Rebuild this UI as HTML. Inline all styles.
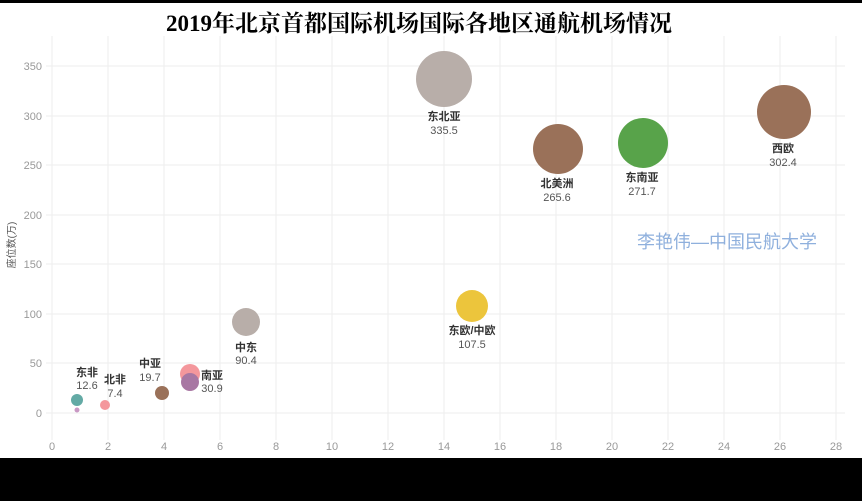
<!DOCTYPE html>
<html><head><meta charset="utf-8"><style>
html,body{margin:0;padding:0;background:#fff;}
body{width:862px;height:501px;overflow:hidden;position:relative;}
</style></head><body>
<svg width="862" height="501" xmlns="http://www.w3.org/2000/svg" style="position:absolute;left:0;top:0">
<rect x="0" y="0" width="862" height="501" fill="#fff"/>
<rect x="0" y="0" width="862" height="3" fill="#000"/>
<rect x="0" y="458" width="862" height="43" fill="#000"/>
<text x="419" y="31" text-anchor="middle" font-family="Liberation Serif, Noto Serif CJK SC, serif" font-weight="bold" font-size="23" fill="#000">2019年北京首都国际机场国际各地区通航机场情况</text>
<g stroke="#eeeeee" stroke-width="1">
<line x1="52" y1="36" x2="52" y2="440"/><line x1="108" y1="36" x2="108" y2="440"/><line x1="164" y1="36" x2="164" y2="440"/><line x1="220" y1="36" x2="220" y2="440"/><line x1="276" y1="36" x2="276" y2="440"/><line x1="332" y1="36" x2="332" y2="440"/><line x1="388" y1="36" x2="388" y2="440"/><line x1="444" y1="36" x2="444" y2="440"/><line x1="500" y1="36" x2="500" y2="440"/><line x1="556" y1="36" x2="556" y2="440"/><line x1="612" y1="36" x2="612" y2="440"/><line x1="668" y1="36" x2="668" y2="440"/><line x1="724" y1="36" x2="724" y2="440"/><line x1="780" y1="36" x2="780" y2="440"/><line x1="836" y1="36" x2="836" y2="440"/>
<line x1="46" y1="413" x2="845" y2="413"/><line x1="46" y1="363" x2="845" y2="363"/><line x1="46" y1="314" x2="845" y2="314"/><line x1="46" y1="264" x2="845" y2="264"/><line x1="46" y1="215" x2="845" y2="215"/><line x1="46" y1="165" x2="845" y2="165"/><line x1="46" y1="116" x2="845" y2="116"/><line x1="46" y1="66" x2="845" y2="66"/>
</g>
<g font-family="Liberation Sans, sans-serif" font-size="11" fill="#999" text-anchor="end">
<text x="42" y="417">0</text><text x="42" y="367">50</text><text x="42" y="318">100</text><text x="42" y="268">150</text><text x="42" y="219">200</text><text x="42" y="169">250</text><text x="42" y="120">300</text><text x="42" y="70">350</text>
</g>
<g font-family="Liberation Sans, sans-serif" font-size="11" fill="#999" text-anchor="middle">
<text x="52" y="450">0</text><text x="108" y="450">2</text><text x="164" y="450">4</text><text x="220" y="450">6</text><text x="276" y="450">8</text><text x="332" y="450">10</text><text x="388" y="450">12</text><text x="444" y="450">14</text><text x="500" y="450">16</text><text x="556" y="450">18</text><text x="612" y="450">20</text><text x="668" y="450">22</text><text x="724" y="450">24</text><text x="780" y="450">26</text><text x="836" y="450">28</text>
</g>
<text transform="translate(15,245) rotate(-90)" text-anchor="middle" font-family="Liberation Sans, Noto Sans CJK SC, sans-serif" font-size="10" fill="#555">座位数(万)</text>
<text x="727" y="248" text-anchor="middle" font-family="Liberation Sans, Noto Sans CJK SC, sans-serif" font-size="18" fill="#8fb0dd">李艳伟—中国民航大学</text>
<circle cx="444" cy="79" r="28" fill="#b8aea9"/>
<circle cx="784" cy="112" r="27" fill="#9a7159"/>
<circle cx="643" cy="143" r="25" fill="#58a34a"/>
<circle cx="558" cy="149" r="25" fill="#9a7159"/>
<circle cx="472" cy="306" r="16" fill="#ecc53c"/>
<circle cx="246" cy="322" r="14" fill="#b8aea9"/>
<circle cx="190" cy="374" r="10" fill="#f4979c"/>
<circle cx="190" cy="382" r="9" fill="#a877a3"/>
<circle cx="162" cy="393" r="7" fill="#9a7159"/>
<circle cx="105" cy="405" r="5" fill="#f4979c"/>
<circle cx="77" cy="400" r="6" fill="#63aaa5"/>
<circle cx="77" cy="410" r="2.5" fill="#c998c4"/>
<g font-family="Liberation Sans, Noto Sans CJK SC, sans-serif" font-size="11" text-anchor="middle">
<g font-weight="bold" fill="#333">
<text x="444" y="120">东北亚</text><text x="557" y="187">北美洲</text><text x="642" y="181">东南亚</text><text x="783" y="152">西欧</text><text x="472" y="334">东欧/中欧</text><text x="246" y="351">中东</text><text x="212" y="379">南亚</text><text x="150" y="367">中亚</text><text x="115" y="383">北非</text><text x="87" y="376">东非</text>
</g>
<g fill="#555">
<text x="444" y="134">335.5</text><text x="557" y="201">265.6</text><text x="642" y="195">271.7</text><text x="783" y="166">302.4</text><text x="472" y="348">107.5</text><text x="246" y="364">90.4</text><text x="212" y="392">30.9</text><text x="150" y="381">19.7</text><text x="115" y="397">7.4</text><text x="87" y="389">12.6</text>
</g>
</g>
</svg>
</body></html>
